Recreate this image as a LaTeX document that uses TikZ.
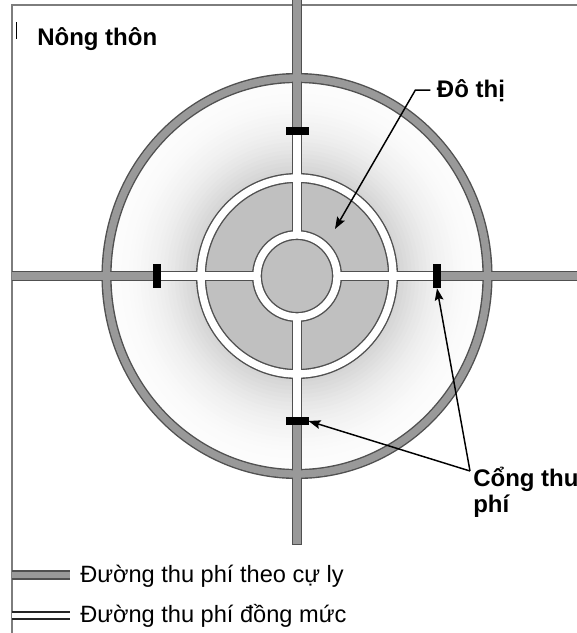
\documentclass[tikz,border=0pt]{standalone}
\usepackage{fontspec}
\setmainfont{Liberation Sans}
\usetikzlibrary{arrows.meta}

\definecolor{roadgray}{RGB}{153,153,153}
\definecolor{roadedge}{RGB}{80,80,80}
\definecolor{zonegray}{RGB}{192,192,192}
\definecolor{framegray}{RGB}{125,125,125}

\begin{document}
\begin{tikzpicture}[x=0.75pt,y=0.75pt,yscale=-1,xscale=1,
    edgeline/.style={draw=roadedge, line width=7.6pt},
    tollroad/.style={draw=roadgray, line width=5.5pt},
    flatroad/.style={draw=white, line width=5.5pt},
    tollgate/.style={fill=black, inner sep=0pt, outer sep=0pt},
    zonetext/.style={inner sep=0pt, font=\fontsize{18}{19}\selectfont\bfseries, align=left},
    legendtext/.style={inner sep=0pt, font=\fontsize{17.7}{19}\selectfont},
    pointer/.style={line width=1.1pt, -{Stealth[length=9pt,width=6.5pt,inset=1.5pt]}}]
    \useasboundingbox (0,0) rectangle (577,633);

    %Shape: Frame
    \draw [framegray, line width=0.9pt] (12,633) -- (12,5) -- (577,5) ;
    \draw [line width=0.6pt] (16,22) -- (16,39) ;

    %Shape: Suburb shadow (outer rings are lightest)
    \foreach \k in {0,...,24} {
        \pgfmathsetmacro{\rx}{190.5-3.8*\k}
        \pgfmathsetmacro{\ry}{198-4.0*\k}
        \pgfmathsetmacro{\sh}{1+17*(\k/24)^2}
        \fill [black!\sh] (297,276) ellipse [x radius=\rx, y radius=\ry] ;
    }
    %Shape: City zone
    \fill [zonegray] (297,276) ellipse [x radius=96, y radius=98] ;

    %Shape: Road outlines
    \draw [edgeline] (297,235) -- (297,0) (297,317) -- (297,545) (257,276) -- (12,276) (337,276) -- (577,276) ;
    \draw [edgeline] (297,276) ellipse [x radius=190.5, y radius=198] ;
    \draw [edgeline] (297,276) ellipse [x radius=96, y radius=98] ;
    \draw [edgeline] (297,276) ellipse [x radius=40, y radius=41] ;
    %Shape: Distance toll roads
    \draw [tollroad] (297,131) -- (297,0) (297,421) -- (297,544) (157,276) -- (12,276) (437,276) -- (577,276) ;
    \draw [tollroad] (297,276) ellipse [x radius=190.5, y radius=198] ;
    %Shape: Flat toll roads
    \draw [flatroad] (297,235) -- (297,131) (297,317) -- (297,421) (257,276) -- (157,276) (337,276) -- (437,276) ;
    \draw [flatroad] (297,276) ellipse [x radius=96, y radius=98] ;
    \draw [flatroad] (297,276) ellipse [x radius=40, y radius=41] ;

    %Shape: Toll gates
    \node [tollgate, minimum width=17.25pt, minimum height=6pt] (gateN) at (297,131) {};
    \node [tollgate, minimum width=17.25pt, minimum height=6pt] (gateS) at (297,421) {};
    \node [tollgate, minimum width=6pt, minimum height=18.5pt] (gateW) at (157,276) {};
    \node [tollgate, minimum width=6pt, minimum height=18.5pt] (gateE) at (437,276) {};

    % Text Node
    \node [zonetext, anchor=base west] (nongthon) at (37,45) {Nông thôn};
    % Text Node
    \node [zonetext, anchor=base west, outer xsep=5pt] (dothi) at (430.3,97) {Đô thị};
    % Text Node
    \node [zonetext, anchor=base west] (congthuphi) at (473,512) {Cổng thu\\phí};

    %Shape: Pointers
    \coordinate (dotip) at (335,229);
    \coordinate (congfoot) at (470,471);
    \draw [pointer] (dothi.west) -- ++(-15,0) -- (dotip) ;
    \draw [pointer] (congfoot) -- (gateE.south) ;
    \draw [pointer] (congfoot) -- (gateS.east) ;

    %Shape: Legend
    \draw [draw=roadedge, line width=1.3pt, double=roadgray, double distance=5.2pt] (12,575) -- (70,575) ;
    \draw [draw=black!85, line width=1pt, double=white, double distance=4.2pt] (12,615.5) -- (70,615.5) ;
    % Text Node
    \node [legendtext, anchor=base west] (legtoll) at (80,582) {Đường thu phí theo cự ly};
    % Text Node
    \node [legendtext, anchor=base west] (legflat) at (80,622) {Đường thu phí đồng mức};

\end{tikzpicture}
\end{document}
